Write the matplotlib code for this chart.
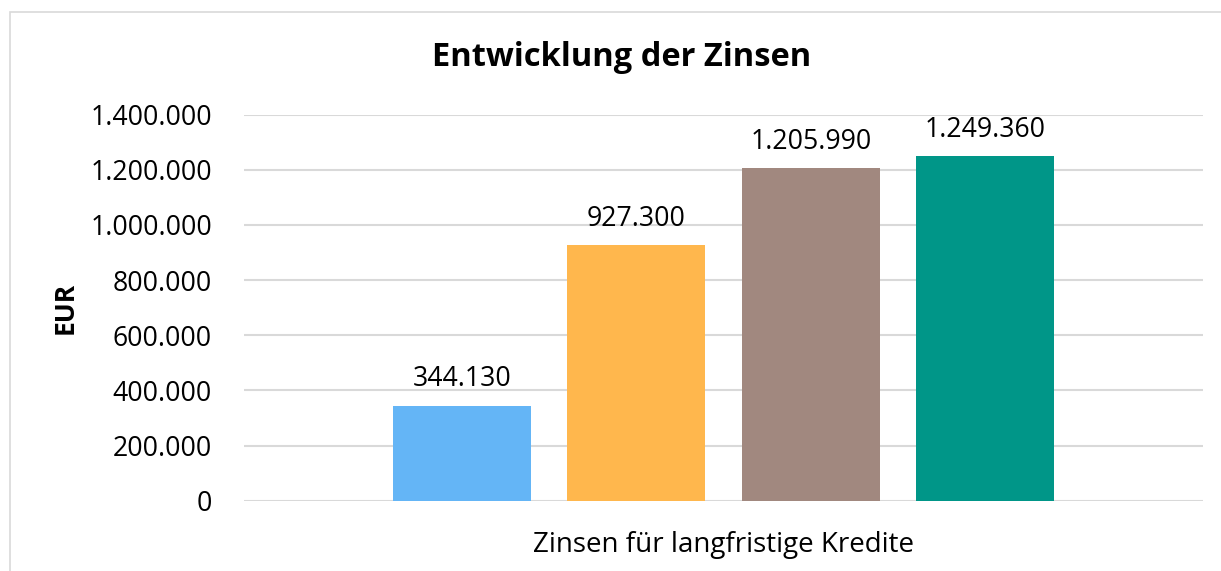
import matplotlib.pyplot as plt
from matplotlib.patches import Rectangle
from matplotlib.ticker import FuncFormatter

series_names = ["Jahr 1", "Jahr 2", "Jahr 3", "Jahr 4"]
values = [344130, 927300, 1205990, 1249360]
colors = ["#64B5F6", "#FFB74D", "#A1887F", "#009688"]
category = "Zinsen für langfristige Kredite"
y_ticks = [0, 200000, 400000, 600000, 800000, 1000000, 1200000, 1400000]


def de_format(v):
    return "{:,.0f}".format(v).replace(",", ".")


plt.rcParams["font.family"] = ["Open Sans", "DejaVu Sans"]

W, H = 1221, 571
fig = plt.figure(figsize=(W / 100, H / 100), dpi=100)

# chart frame (only left/top edges fall inside the picture)
fig.patches.append(Rectangle((10 / W, -0.2), 1.2, 1.2 - 12 / H,
                             transform=fig.transFigure, fill=False,
                             edgecolor="#D9D9D9", linewidth=1.2))

ax = fig.add_axes([244 / W, (H - 500.7) / H, 959 / W, 386 / H])

pitch = 0.182
width = 0.144
for i, (name, v, c) in enumerate(zip(series_names, values, colors)):
    xc = 0.5 + (i - 1.5) * pitch
    ax.bar(xc, v, width=width, color=c, label=name, zorder=3)
    ax.annotate(de_format(v), (xc, v), xytext=(0, 14), textcoords="offset points",
                ha="center", va="baseline", fontsize=19.2, color="#000000")

ax.set_xlim(0, 1)
ax.set_ylim(0, 1400000)
ax.set_yticks(y_ticks)
ax.yaxis.set_major_formatter(FuncFormatter(lambda v, p: de_format(v)))
ax.grid(axis="y", color="#D9D9D9", linewidth=1.5, zorder=0)
ax.set_xticks([0.5])
ax.set_xticklabels([category])
ax.tick_params(axis="x", length=0, pad=22, labelsize=20)
ax.tick_params(axis="y", length=0, pad=23, labelsize=19.2)
for s in ax.spines.values():
    s.set_visible(False)

fig.text(65 / W, 1 - 307.7 / H, "EUR", rotation=90, ha="center", va="center",
         fontsize=19, fontweight="bold")
fig.text(621.5 / W, 1 - 58 / H, "Entwicklung der Zinsen", ha="center", va="center",
         fontsize=23.5, fontweight="bold")

fig.savefig("out.png", dpi=100)
